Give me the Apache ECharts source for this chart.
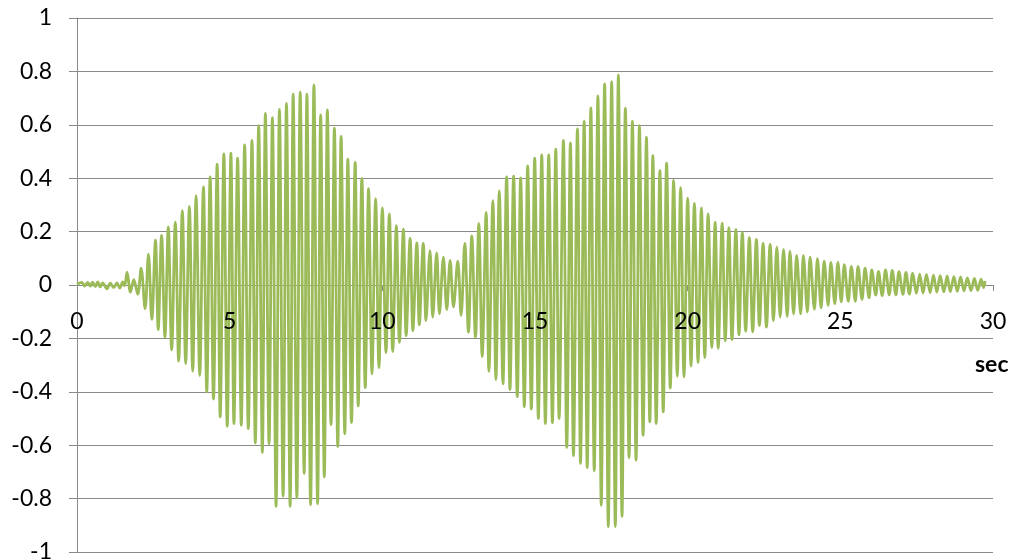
<!DOCTYPE html>
<html>
<head>
<meta charset="utf-8">
<script src="https://cdn.jsdelivr.net/npm/echarts@6/dist/echarts.min.js"></script>
<style>
  html, body { margin: 0; padding: 0; background: #ffffff; }
  #chart { width: 1011px; height: 559px; }
</style>
</head>
<body>
<div id="chart"></div>
<script>
// Ground response record: [time (s), amplitude] at each successive peak and trough.
const preEvent = [
  [0.00, 0.003], [0.16, 0.010], [0.25, -0.004], [0.35, 0.010], [0.44, -0.004], [0.51, 0.011],
  [0.60, -0.006], [0.68, 0.012], [0.76, -0.007], [0.84, 0.008], [0.98, -0.014], [1.09, 0.007],
  [1.20, -0.010], [1.31, 0.008], [1.40, -0.012], [1.50, 0.012], [1.56, -0.003], [1.64, 0.048],
  [1.75, -0.027], [1.86, 0.020], [1.99, -0.035]
];

const firstPacket = [
  [2.10, 0.063], [2.23, -0.089], [2.34, 0.116], [2.45, -0.129], [2.57, 0.168], [2.66, -0.167],
  [2.77, 0.186], [2.88, -0.196], [2.99, 0.218], [3.10, -0.243], [3.22, 0.235], [3.33, -0.285],
  [3.45, 0.278], [3.56, -0.294], [3.68, 0.294], [3.79, -0.323], [3.90, 0.335], [4.02, -0.339],
  [4.14, 0.367], [4.25, -0.399], [4.36, 0.405], [4.47, -0.427], [4.59, 0.453], [4.69, -0.494],
  [4.81, 0.491], [4.92, -0.529], [5.04, 0.494], [5.14, -0.519], [5.26, 0.475], [5.38, -0.525],
  [5.49, 0.525], [5.61, -0.538], [5.73, 0.542], [5.84, -0.592], [5.95, 0.597], [6.07, -0.627],
  [6.17, 0.643], [6.29, -0.595], [6.40, 0.627], [6.52, -0.829], [6.63, 0.658], [6.75, -0.791],
  [6.86, 0.680], [6.98, -0.829], [7.08, 0.715], [7.20, -0.797], [7.31, 0.722], [7.44, -0.706],
  [7.53, 0.715], [7.65, -0.823], [7.76, 0.749], [7.88, -0.819], [7.98, 0.637], [8.10, -0.719],
  [8.20, 0.656], [8.32, -0.523], [8.43, 0.587], [8.54, -0.605], [8.65, 0.557], [8.77, -0.557],
  [8.87, 0.471], [8.99, -0.515], [9.11, 0.459], [9.21, -0.453], [9.33, 0.399], [9.44, -0.384],
  [9.55, 0.361], [9.66, -0.333], [9.78, 0.323], [9.89, -0.310], [10.00, 0.289], [10.12, -0.253],
  [10.23, 0.266], [10.34, -0.249], [10.46, 0.222], [10.56, -0.215], [10.69, 0.209], [10.78, -0.190],
  [10.91, 0.175], [11.00, -0.171], [11.13, 0.158], [11.21, -0.149], [11.34, 0.156], [11.43, -0.133],
  [11.56, 0.129], [11.65, -0.120], [11.78, 0.120], [11.87, -0.108], [12.00, 0.104], [12.11, -0.092],
  [12.22, 0.092], [12.33, -0.082], [12.47, 0.089]
];

const secondPacket = [
  [12.58, -0.114], [12.70, 0.156], [12.82, -0.177], [12.93, 0.184], [13.05, -0.196], [13.16, 0.230],
  [13.27, -0.268], [13.40, 0.272], [13.49, -0.323], [13.62, 0.316], [13.72, -0.354], [13.83, 0.352],
  [13.95, -0.370], [14.07, 0.405], [14.18, -0.392], [14.30, 0.408], [14.42, -0.418], [14.53, 0.401],
  [14.65, -0.456], [14.76, 0.446], [14.88, -0.465], [14.99, 0.475], [15.11, -0.500], [15.22, 0.487],
  [15.34, -0.519], [15.45, 0.487], [15.57, -0.516], [15.68, 0.509], [15.79, -0.500], [15.93, 0.542],
  [16.04, -0.608], [16.16, 0.532], [16.26, -0.639], [16.39, 0.585], [16.49, -0.668], [16.61, 0.613],
  [16.71, -0.684], [16.83, 0.663], [16.94, -0.696], [17.06, 0.708], [17.17, -0.825], [17.28, 0.754],
  [17.40, -0.905], [17.51, 0.762], [17.63, -0.905], [17.73, 0.787], [17.85, -0.867], [17.96, 0.662],
  [18.08, -0.646], [18.19, 0.614], [18.31, -0.656], [18.42, 0.597], [18.54, -0.563], [18.65, 0.554],
  [18.76, -0.513], [18.86, 0.484], [18.97, -0.519], [19.09, 0.428], [19.20, -0.475], [19.31, 0.456],
  [19.43, -0.386], [19.54, 0.392], [19.66, -0.342], [19.77, 0.365], [19.88, -0.344], [20.00, 0.325],
  [20.11, -0.304], [20.22, 0.306], [20.34, -0.291], [20.45, 0.289], [20.56, -0.272], [20.67, 0.266],
  [20.79, -0.234], [20.90, 0.235], [21.00, -0.237]
];

const coda = [
  [21.13, 0.232], [21.23, -0.209], [21.35, 0.215], [21.45, -0.205], [21.58, 0.208], [21.68, -0.187],
  [21.79, 0.197], [21.90, -0.173], [22.02, 0.177], [22.13, -0.175], [22.25, 0.171], [22.35, -0.152],
  [22.47, 0.156], [22.58, -0.158], [22.70, 0.152], [22.81, -0.133], [22.92, 0.142], [23.03, -0.120],
  [23.14, 0.133], [23.26, -0.118], [23.35, 0.127], [23.47, -0.108], [23.57, 0.111], [23.70, -0.108],
  [23.79, 0.111], [23.92, -0.101], [24.01, 0.104], [24.15, -0.091], [24.25, 0.099], [24.37, -0.086],
  [24.47, 0.089], [24.60, -0.076], [24.69, 0.085], [24.82, -0.070], [24.92, 0.085], [25.03, -0.063],
  [25.13, 0.076], [25.26, -0.061], [25.36, 0.070], [25.49, -0.061], [25.58, 0.070], [25.71, -0.054],
  [25.81, 0.063], [25.94, -0.048], [26.03, 0.057], [26.16, -0.038], [26.25, 0.051], [26.37, -0.040],
  [26.48, 0.057], [26.60, -0.037], [26.70, 0.055], [26.82, -0.037], [26.92, 0.050], [27.05, -0.035],
  [27.15, 0.047], [27.26, -0.034], [27.37, 0.044], [27.49, -0.031], [27.60, 0.041], [27.71, -0.030],
  [27.82, 0.040], [27.94, -0.029], [28.05, 0.037], [28.16, -0.027], [28.27, 0.035], [28.39, -0.026],
  [28.50, 0.034], [28.60, -0.025], [28.72, 0.031], [28.83, -0.024], [28.94, 0.030], [29.05, -0.022],
  [29.16, 0.027], [29.28, -0.021], [29.39, 0.025], [29.50, -0.020], [29.61, 0.022], [29.69, -0.010],
  [29.74, 0.015]
];

// Axis extents and tick spacing
const timeRange = [0, 30];
const timeStep = 5;
const ampRange = [-1, 1];
const ampStep = 0.2;
const timeUnit = 'sec';

const record = preEvent.concat(firstPacket, secondPacket, coda);

const axisGray = '#898989';
const labelFont = 'Lato, "Open Sans", sans-serif';

// Plot box in pixels; the time axis is drawn through amplitude 0
const plotTop = 18;
const plotBottom = 7;
const plotHeight = 559 - plotTop - plotBottom;
const zeroOffset = -plotHeight * (0 - ampRange[0]) / (ampRange[1] - ampRange[0]);

const timeAxisBase = {
  type: 'value',
  position: 'bottom',
  min: timeRange[0],
  max: timeRange[1],
  interval: timeStep,
  offset: zeroOffset,
  splitLine: { show: false }
};

const chart = echarts.init(document.getElementById('chart'), null, { renderer: 'canvas' });

chart.setOption({
  animation: false,
  backgroundColor: '#ffffff',
  grid: {
    left: 77, right: 18, top: plotTop, bottom: plotBottom,
    containLabel: false,
    outerBoundsMode: 'none'
  },
  xAxis: [
    // time axis line and ticks, behind the trace
    Object.assign({}, timeAxisBase, {
      axisLine: { show: true, onZero: false, lineStyle: { color: axisGray, width: 1 } },
      axisTick: { show: true, inside: false, length: 6, lineStyle: { color: axisGray } },
      axisLabel: { show: false }
    }),
    // time tick labels, painted over the trace
    Object.assign({}, timeAxisBase, {
      z: 10,
      axisLine: { show: false, onZero: false },
      axisTick: { show: false },
      axisLabel: {
        margin: 25,
        color: '#000000',
        fontFamily: labelFont,
        fontSize: 23
      }
    })
  ],
  yAxis: {
    type: 'value',
    min: ampRange[0],
    max: ampRange[1],
    interval: ampStep,
    axisLine: { show: true, lineStyle: { color: axisGray, width: 1 } },
    axisTick: { show: true, inside: false, length: 8, lineStyle: { color: axisGray } },
    splitLine: { show: true, lineStyle: { color: axisGray, width: 1 } },
    axisLabel: {
      margin: 25,
      color: '#000000',
      fontFamily: labelFont,
      fontSize: 23,
      formatter: v => String(Math.round(v * 10) / 10)
    }
  },
  graphic: [{
    type: 'text',
    left: 975,
    top: 353,
    style: {
      text: timeUnit,
      fill: '#000000',
      font: 'bold 23px ' + labelFont
    }
  }],
  series: [{
    type: 'line',
    xAxisIndex: 0,
    data: record,
    showSymbol: false,
    smooth: 0.35,
    lineStyle: { color: '#9BBB59', width: 2.8 },
    clip: false
  }]
});
</script>
</body>
</html>
